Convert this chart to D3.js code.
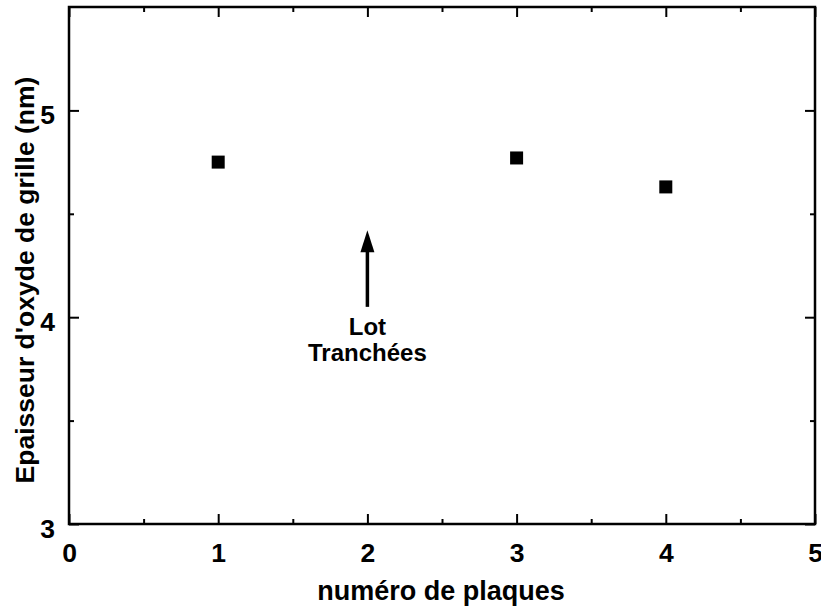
<!DOCTYPE html>
<html>
<head>
<meta charset="utf-8">
<script src="https://cdn.jsdelivr.net/npm/d3@7"></script>
<style>
  body { margin: 0; background: #fff; }
  text { font-family: "Liberation Sans", Arial, sans-serif; font-weight: bold; fill: #000; }
</style>
</head>
<body>
<div id="chart"></div>
<script>
// données : épaisseur d'oxyde par plaque
const plaques = [1, 3, 4];
const epaisseurs = [4.75, 4.77, 4.63];
const xTicks = [0, 1, 2, 3, 4, 5];
const yTicks = [3, 4, 5];
const xMinor = [0.5, 1.5, 2.5, 3.5, 4.5];
const yMinor = [3.5, 4.5];
// flèche "Lot Tranchées"
const flecheX = 2;
const flecheY = [4.05, 4.42];
const annotation = ["Lot", "Tranchées"];

const width = 821, height = 609;
const margin = { top: 7, right: 6, bottom: 85, left: 69 };

const svg = d3.select("#chart")
    .append("svg")
    .attr("width", width)
    .attr("height", height);

const x = d3.scaleLinear().domain([0, 5]).range([margin.left, width - margin.right]);
const y = d3.scaleLinear().domain([3, 5.5]).range([height - margin.bottom, margin.top]);

// cadre
svg.append("rect")
    .attr("x", x(0))
    .attr("y", y(5.5))
    .attr("width", x(5) - x(0))
    .attr("height", y(3) - y(5.5))
    .attr("fill", "none")
    .attr("stroke", "#000")
    .attr("stroke-width", 2.5);

// axes avec graduations vers l'intérieur
function drawAxis(axis, tr) {
    const g = svg.append("g").attr("transform", tr).call(axis);
    g.select(".domain").remove();
    g.selectAll("line").attr("stroke-width", 2);
    return g;
}

const bottom = drawAxis(d3.axisBottom(x).tickValues(xTicks).tickSize(-10).tickPadding(19).tickFormat(d3.format("d")),
    `translate(0,${y(3)})`);
bottom.selectAll("text").style("font-size", "26.5px");
drawAxis(d3.axisBottom(x).tickValues(xMinor).tickSize(-5).tickFormat(""), `translate(0,${y(3)})`);
drawAxis(d3.axisTop(x).tickValues(xTicks).tickSize(-10).tickFormat(""), `translate(0,${y(5.5)})`);
drawAxis(d3.axisTop(x).tickValues(xMinor).tickSize(-5).tickFormat(""), `translate(0,${y(5.5)})`);

const left = drawAxis(d3.axisLeft(y).tickValues(yTicks).tickSize(-10).tickPadding(14).tickFormat(d3.format("d")),
    `translate(${x(0)},0)`);
left.selectAll("text").style("font-size", "26.5px").attr("dy", "0.5em");
drawAxis(d3.axisLeft(y).tickValues(yMinor).tickSize(-5).tickFormat(""), `translate(${x(0)},0)`);
drawAxis(d3.axisRight(y).tickValues(yTicks).tickSize(-10).tickFormat(""), `translate(${x(5)},0)`);
drawAxis(d3.axisRight(y).tickValues(yMinor).tickSize(-5).tickFormat(""), `translate(${x(5)},0)`);

// titres des axes
svg.append("text")
    .attr("x", 441)
    .attr("y", 600)
    .attr("text-anchor", "middle")
    .style("font-size", "27px")
    .text("numéro de plaques");

svg.append("text")
    .attr("transform", "translate(34,280) rotate(-90)")
    .attr("text-anchor", "middle")
    .style("font-size", "26.5px")
    .text("Epaisseur d'oxyde de grille (nm)");

// points
const size = 13;
svg.selectAll(".pt")
    .data(plaques)
    .enter()
    .append("rect")
    .attr("class", "pt")
    .attr("x", (d) => x(d) - size / 2)
    .attr("y", (d, i) => y(epaisseurs[i]) - size / 2)
    .attr("width", size)
    .attr("height", size)
    .attr("fill", "#000");

// flèche
const ax = x(flecheX), tip = y(flecheY[1]);
svg.append("line")
    .attr("x1", ax)
    .attr("x2", ax)
    .attr("y1", y(flecheY[0]))
    .attr("y2", tip + 20)
    .attr("stroke", "#000")
    .attr("stroke-width", 3.5);
svg.append("path")
    .attr("d", `M${ax},${tip} L${ax - 7},${tip + 22} L${ax + 7},${tip + 22} Z`)
    .attr("fill", "#000");

svg.selectAll(".annot")
    .data(annotation)
    .enter()
    .append("text")
    .attr("class", "annot")
    .attr("x", ax)
    .attr("y", (d, i) => 335 + i * 26)
    .attr("text-anchor", "middle")
    .style("font-size", "24px")
    .text((d) => d);
</script>
</body>
</html>
